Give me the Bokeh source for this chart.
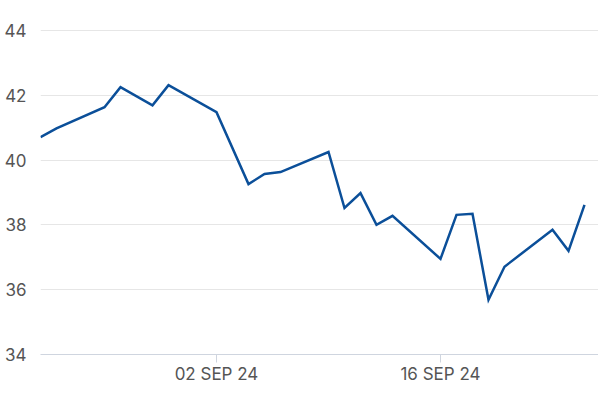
import pandas as pd
from bokeh.plotting import figure
from bokeh.models import Range1d, FixedTicker, ColumnDataSource
from bokeh.embed import file_html
from bokeh.resources import INLINE

dates = ["2024-08-22", "2024-08-23", "2024-08-26", "2024-08-27", "2024-08-29", "2024-08-30",
         "2024-09-02", "2024-09-04", "2024-09-05", "2024-09-06", "2024-09-09", "2024-09-10",
         "2024-09-11", "2024-09-12", "2024-09-13", "2024-09-16", "2024-09-17", "2024-09-18",
         "2024-09-19", "2024-09-20", "2024-09-23", "2024-09-24", "2024-09-25"]
values = [40.71, 40.98, 41.63, 42.25, 41.69, 42.31,
          41.48, 39.26, 39.57, 39.63, 40.25, 38.52,
          38.98, 38.00, 38.28, 36.95, 38.31, 38.34,
          35.69, 36.71, 37.85, 37.20, 38.62]
y_ticks = [34, 36, 38, 40, 42, 44]
x_tick_dates = ["2024-09-02", "2024-09-16"]
x_tick_labels = ["02 SEP 24", "16 SEP 24"]

dt = pd.to_datetime(dates)
src = ColumnDataSource(dict(x=dt, y=values))

x_start = pd.Timestamp("2024-08-22")
x_end = pd.Timestamp("2024-09-25 21:00")

p = figure(width=598, height=386, output_backend="svg", toolbar_location=None,
           x_axis_type="datetime",
           x_range=Range1d(x_start, x_end), y_range=Range1d(34, 44.03),
           min_border_left=40, min_border_right=0, min_border_top=29, min_border_bottom=31)
p.outline_line_color = None
p.background_fill_color = "white"
p.border_fill_color = "white"

p.line("x", "y", source=src, line_color="#0b4f99", line_width=2.5, line_join="miter")

tick_ms = [pd.Timestamp(d).value / 1e6 for d in x_tick_dates]
p.xaxis.ticker = FixedTicker(ticks=tick_ms)
p.xaxis.major_label_overrides = {t: l for t, l in zip(tick_ms, x_tick_labels)}
p.xaxis.axis_line_color = "#cfd5df"
p.xaxis.major_tick_line_color = "#cfd5df"
p.xaxis.major_tick_out = 8
p.xaxis.major_tick_in = 0
p.xaxis.minor_tick_line_color = None
p.xaxis.major_label_standoff = 1
p.xaxis.major_label_text_font = "Inter"
p.xaxis.major_label_text_font_size = "17px"
p.xaxis.major_label_text_color = "#555555"

p.yaxis.ticker = FixedTicker(ticks=y_ticks)
p.yaxis.axis_line_color = None
p.yaxis.major_tick_line_color = None
p.yaxis.minor_tick_line_color = None
p.yaxis.major_label_standoff = 8
p.yaxis.major_label_text_font = "Inter"
p.yaxis.major_label_text_font_size = "17px"
p.yaxis.major_label_text_color = "#555555"

p.xgrid.grid_line_color = None
p.ygrid.grid_line_color = "#e6e6e6"
p.ygrid.grid_line_width = 1

open("out.html", "w").write(file_html(p, INLINE))
